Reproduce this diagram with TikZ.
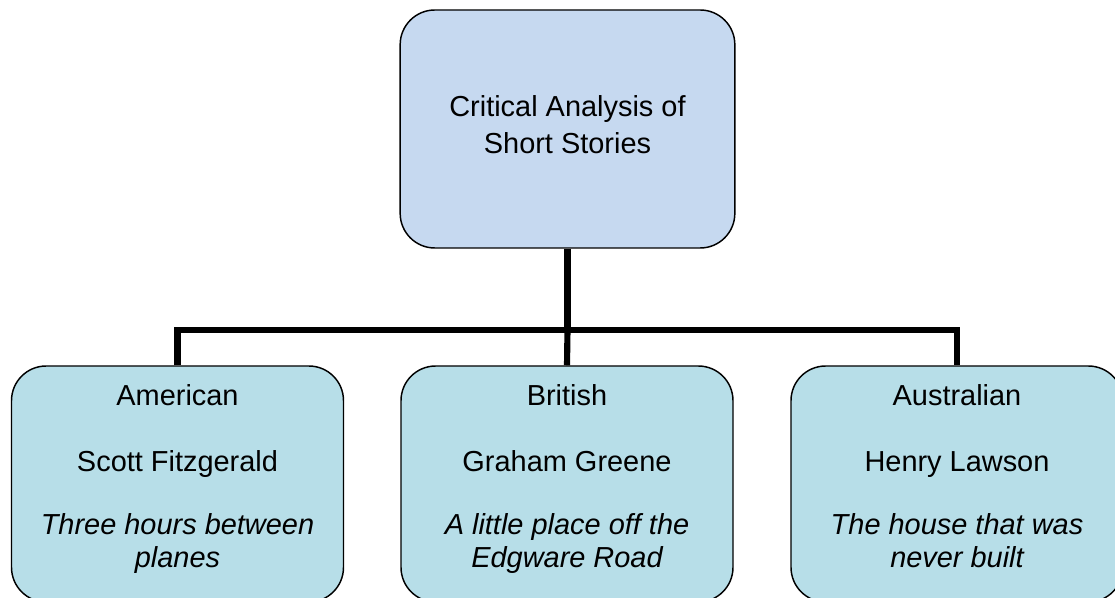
\documentclass[tikz,border=0pt]{standalone}
\usepackage{fontspec}
\setmainfont{Liberation Sans}
\definecolor{topfill}{HTML}{C6D9F0}
\definecolor{subfill}{HTML}{B7DEE8}
\begin{document}
\begin{tikzpicture}[x=0.75pt,y=-0.75pt,
  box/.style={draw=black,line width=1.1pt,rounded corners=26pt,align=center,
    font=\fontsize{21.7}{25}\selectfont,inner sep=0pt},
  topbox/.style={box,fill=topfill,minimum width=251pt,minimum height=178.5pt,
    font=\fontsize{21.7}{27.75}\selectfont,text depth=7.3pt},
  subbox/.style={box,fill=subfill,minimum width=249pt,minimum height=177pt,text depth=11.8pt},
  conn/.style={line width=4.6pt,line join=miter}]
\useasboundingbox (0,0) rectangle (1115,598);
\clip (0,0) rectangle (1115,598);
\node[topbox] (top) at (567.5,129) {Critical Analysis of\\Short Stories};
\node[subbox] (am) at (177.5,484) {American\\[25pt]Scott Fitzgerald\\[22pt]{\itshape Three hours between}\\{\itshape planes}};
\node[subbox] (br) at (567,484) {British\\[25pt]Graham Greene\\[22pt]{\itshape A little place off the}\\{\itshape Edgware Road}};
\node[subbox] (au) at (957,484) {Australian\\[25pt]Henry Lawson\\[22pt]{\itshape The house that was}\\{\itshape never built}};
\coordinate (j) at (567.5,330);
\draw[conn] (top.south) -- (j);
\draw[conn] (am.north) |- (j) -| (au.north);
\draw[conn] (j) -- (br.north);
\end{tikzpicture}
\end{document}
